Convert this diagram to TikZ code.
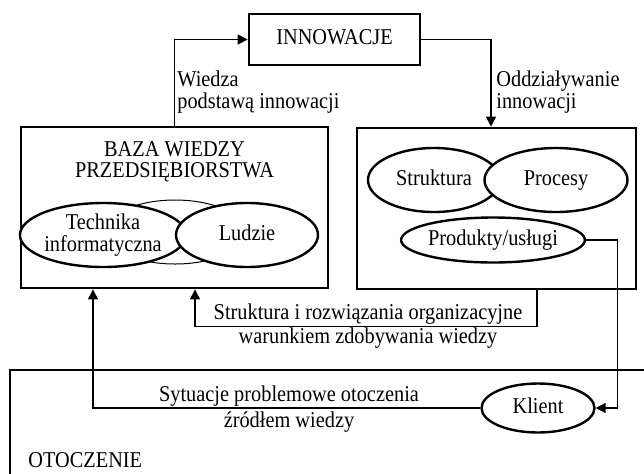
\documentclass[tikz,border=0pt]{standalone}
\usepackage{fontspec}
\setmainfont{Liberation Serif}[FakeStretch=0.9]
\usepackage{tikz}
\usetikzlibrary{arrows.meta, shapes.geometric, positioning, calc}

\begin{document}
\begin{tikzpicture}[
    x=0.5pt, y=-0.5pt,
    font=\fontsize{11.3}{10.6}\selectfont,
    box/.style={draw, line width=1.4pt, inner sep=0pt, align=center},
    oval/.style={draw, ellipse, line width=1.2pt, fill=white, inner sep=0pt,
                 minimum height=32pt, align=center},
    oneline/.style={text height=1.6ex, text depth=0.45ex},
    thinoval/.style={draw, ellipse, line width=0.5pt, fill=white, inner sep=0pt,
                     minimum height=32pt},
    arr/.style={-{Triangle[length=5pt, width=5pt]}, line width=0.6pt},
    lbl/.style={inner sep=0pt, align=center},
    widelbl/.style={lbl, font=\fontsize{11.3}{12.2}\selectfont},
  ]
  \useasboundingbox (0,0) rectangle (644,473);

  % Innowacje --- top
  \node[box, oneline, minimum width=85.5pt, minimum height=25.5pt] (innow) at (334.5,39.5) {INNOWACJE};

  % Baza wiedzy --- left box
  \node[box, minimum width=153.5pt, minimum height=80.5pt] (baza) at (174.5,207.5) {};
  \node[lbl] (bazatxt) at (174.5,162) {BAZA WIEDZY\\PRZEDSIĘBIORSTWA};
  \node[thinoval, minimum width=70pt] (wspol) at (175,232) {};
  \node[oval, minimum width=70pt] (tech) at (103,235) {Technika\\informatyczna};
  \node[oval, oneline, minimum width=71pt] (ludzie) at (247,235) {Ludzie};

  % Organizacja --- right box
  \node[box, minimum width=139.5pt, minimum height=80.5pt] (orga) at (496.5,208.5) {};
  \node[oval, oneline, minimum width=66pt] (strukt) at (434,180) {Struktura};
  \node[oval, oneline, minimum width=71.5pt] (proc) at (556,180) {Procesy};
  \node[oval, oneline, minimum width=81.5pt, minimum height=22.5pt] (prod) at (493,240) {Produkty/usługi};

  % Otoczenie --- bottom
  \draw[line width=1.4pt] (10,480) |- (650,370);
  \node[lbl, anchor=west] (otocz) at (28,460) {OTOCZENIE};
  \node[oval, oneline, minimum width=56.5pt, minimum height=24.5pt] (klient) at (538,408) {Klient};

  % Connectors
  \draw[arr] (baza.north) |- (innow.west);
  \node[lbl, anchor=west, align=left] (wiedza) at (177,92) {Wiedza\\podstawą innowacji};
  \draw[arr] (innow.east) -| ([xshift=-2.75pt]orga.north);
  \node[lbl, anchor=west, align=left] (oddz) at (496,92) {Oddziaływanie\\innowacji};
  \draw[arr] ([xshift=20.25pt]orga.south) -- ++(0,36) -| ([xshift=10.25pt]baza.south);
  \node[widelbl] (strorg) at (368,326) {Struktura i rozwiązania organizacyjne\\warunkiem zdobywania wiedzy};
  \draw[arr] (prod.east) -| ([xshift=10.75pt]klient.east) -- (klient.east);
  \draw[arr] (klient.west) -| ([xshift=-40.75pt]baza.south);
  \node[widelbl, font=\fontsize{11.3}{12.6}\selectfont] (sytu) at (289,409) {Sytuacje problemowe otoczenia\\źródłem wiedzy};
\end{tikzpicture}
\end{document}
